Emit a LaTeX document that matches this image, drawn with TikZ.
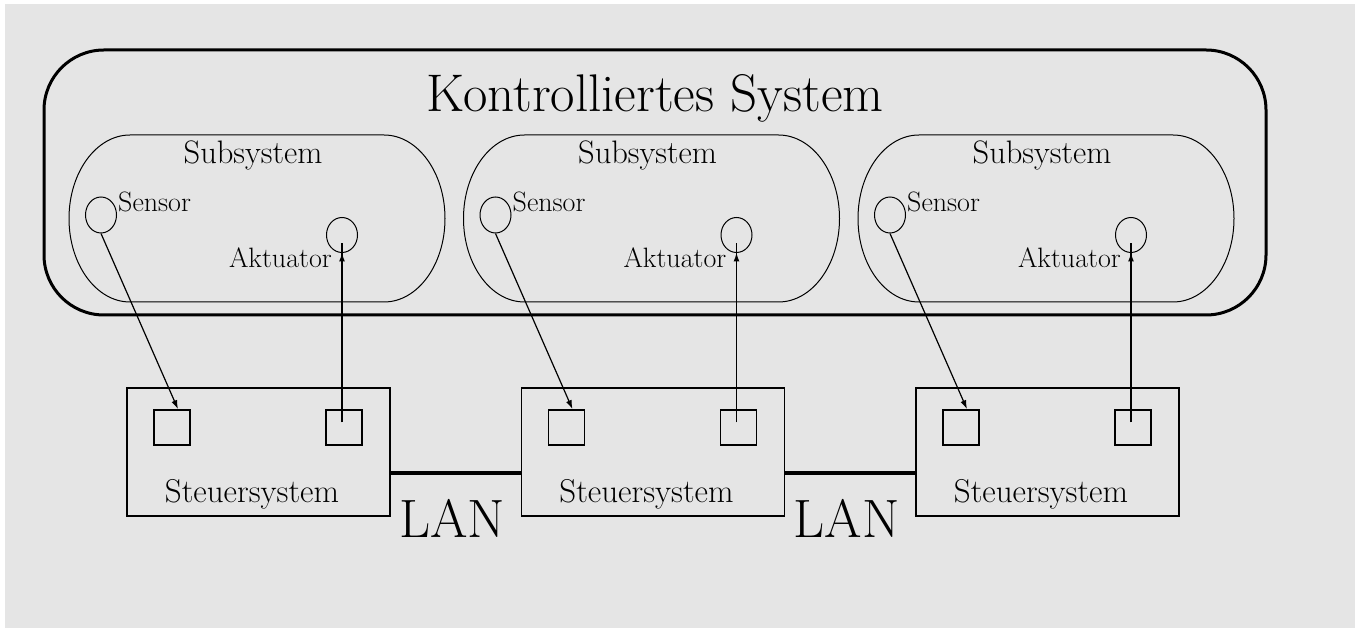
\documentclass[tikz,border=0pt]{standalone}
\usetikzlibrary{arrows.meta,shapes.geometric,calc,decorations.markings}
\definecolor{bggray}{RGB}{229,229,229}
\begin{document}
\begin{tikzpicture}[x=1pt,y=1pt,
  outer/.style={draw, line width=3pt, rounded corners=60pt},
  subsys/.style={draw, line width=1pt},
  sens/.style={draw, ellipse, line width=1pt, minimum width=31pt, minimum height=36pt, inner sep=0pt},
  ctrl/.style={draw, line width=1.6pt, minimum width=263pt, minimum height=128pt, inner sep=0pt},
  port/.style={draw, line width=1.6pt, minimum width=36pt, minimum height=35pt, inner sep=0pt},
  sig/.style={line width=1.2pt, -{Latex[length=9pt,width=6pt]}},
  act/.style={line width=1.6pt, postaction={decorate},
    decoration={markings, mark=at position -9.5pt with {\arrow{Latex[length=9pt,width=6pt]}}}},
  lan/.style={line width=3.5pt},
  title/.style={inner sep=0pt, font=\fontsize{53}{58}\selectfont},
  subtext/.style={inner sep=0pt, font=\fontsize{32.5}{34}\selectfont},
  small/.style={inner sep=0pt, font=\fontsize{28}{30}\selectfont},
  mid/.style={inner sep=0pt, font=\fontsize{33}{35}\selectfont},
  lantext/.style={inner sep=0pt, font=\fontsize{54}{56}\selectfont}
]
\useasboundingbox (0,0) rectangle (1358,629);
\fill[white] (0,0) rectangle (1358,629);
\fill[bggray] (5,1) rectangle (1355,625);

\draw[outer] (44,314) rectangle (1266,579);
\node[title, anchor=base] (title) at (655,517) {Kontrolliertes System};

\foreach \i/\dx in {1/0, 2/394.5, 3/789} {
  \draw[subsys] ({130+\dx},494) -- ({384+\dx},494)
     arc[start angle=90, end angle=-90, x radius=61, y radius=83.5]
     -- ({130+\dx},327)
     arc[start angle=270, end angle=90, x radius=61, y radius=83.5] -- cycle;
  \node[subtext, anchor=base] (sub\i) at ({253+\dx},465) {Subsystem};
  \node[sens] (sen\i) at ({101+\dx},414) {};
  \node[small, anchor=base west] (senl\i) at ({118+\dx},417) {Sensor};
  \node[sens, minimum height=35pt] (akt\i) at ({342+\dx},394) {};
  \node[small, anchor=base east] (aktl\i) at ({332+\dx},361) {Aktuator};
  \node[ctrl] (st\i) at ({258.5+\dx},177) {};
  \node[port] (sp\i) at ({172+\dx},201.5) {};
  \node[port] (ap\i) at ({344+\dx},201.5) {};
  \node[mid, anchor=base] (stl\i) at ({252+\dx},126) {Steuersystem};
  \draw[sig] (sen\i.south) -- ([xshift=6pt]sp\i.north);
  \draw[act] ($(akt\i.south |- ap\i.center)+(0,5)$) -- ($(akt\i.center)+(0,-8)$);
}

\draw[lan] ([yshift=-21pt]st1.east) -- ([yshift=-21pt]st2.west);
\draw[lan] ([yshift=-21pt]st2.east) -- ([yshift=-21pt]st3.west);
\node[lantext, anchor=base] (lan1) at (452,91) {LAN};
\node[lantext, anchor=base] (lan2) at (846.5,91) {LAN};
\end{tikzpicture}
\end{document}
